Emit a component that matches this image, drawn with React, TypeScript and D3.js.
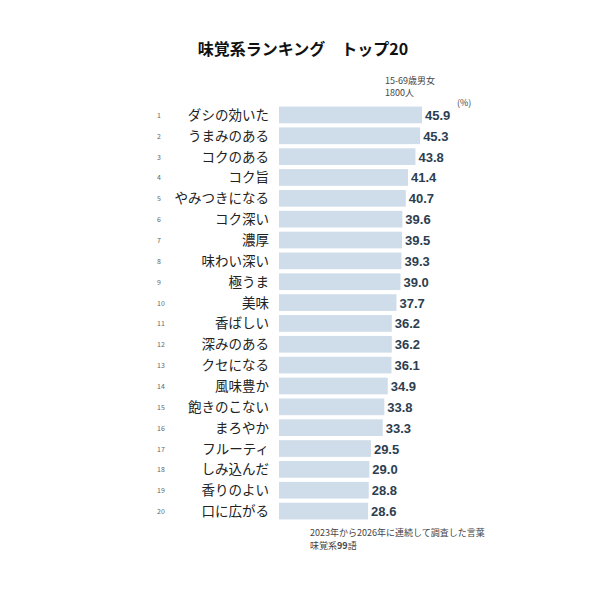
import React from "react";
import * as d3 from "d3";

const ranks = d3.range(1, 21);
const categories = [
  "ダシの効いた", "うまみのある", "コクのある", "コク旨", "やみつきになる",
  "コク深い", "濃厚", "味わい深い", "極うま", "美味",
  "香ばしい", "深みのある", "クセになる", "風味豊か", "飽きのこない",
  "まろやか", "フルーティ", "しみ込んだ", "香りのよい", "口に広がる",
];
const values = [
  45.9, 45.3, 43.8, 41.4, 40.7, 39.6, 39.5, 39.3, 39.0, 37.7,
  36.2, 36.2, 36.1, 34.9, 33.8, 33.3, 29.5, 29.0, 28.8, 28.6,
];

const font = "'Noto Sans CJK JP', 'Noto Sans', sans-serif";

export default function App() {
  const width = 600;
  const height = 594;

  const x = d3.scaleLinear().domain([0, 45.9]).range([279, 422]);
  const y = d3.scaleBand<string>()
    .domain(categories)
    .range([104.5, 521.5])
    .paddingInner(0.2)
    .paddingOuter(0.1);

  return (
    <svg
      width={width}
      height={height}
      style={{ position: "absolute", left: 0, top: 0, background: "#fff" }}
      fontFamily={font}
    >
      <text x={303} y={55} textAnchor="middle" fontSize={16} fontWeight="bold" fill="#111">
        味覚系ランキング　トップ20
      </text>
      <text x={385} y={84} fontSize={9} fill="#444">15-69歳男女</text>
      <text x={385} y={96} fontSize={9} fill="#444">1800人</text>

      {categories.map((c, i) => {
        const yy = y(c) || 0;
        const cy = yy + y.bandwidth() / 2;
        return (
          <g key={c}>
            <text x={157} y={cy + 3} fontSize={7} fill="#666">{ranks[i]}</text>
            <text x={269} y={cy + 5} textAnchor="end" fontSize={13.5} fill="#222">{c}</text>
            <rect
              x={x(0)}
              y={yy}
              width={x(values[i]) - x(0)}
              height={y.bandwidth()}
              fill="#cfdcea"
            />
            <text
              x={x(values[i]) + 3}
              y={cy + 5}
              fontSize={13}
              fontWeight="bold"
              fill="#2c3e50"
              fontFamily="'Liberation Sans', Arial, sans-serif"
            >
              {values[i].toFixed(1)}
            </text>
          </g>
        );
      })}

      <text x={457} y={106} fontSize={9} fill="#444">(%)</text>

      <text x={310} y={536} fontSize={9} fill="#444">2023年から2026年に連続して調査した言葉</text>
      <text x={310} y={549} fontSize={9} fill="#444">
        味覚系<tspan fontWeight="bold">99</tspan>語
      </text>
    </svg>
  );
}
